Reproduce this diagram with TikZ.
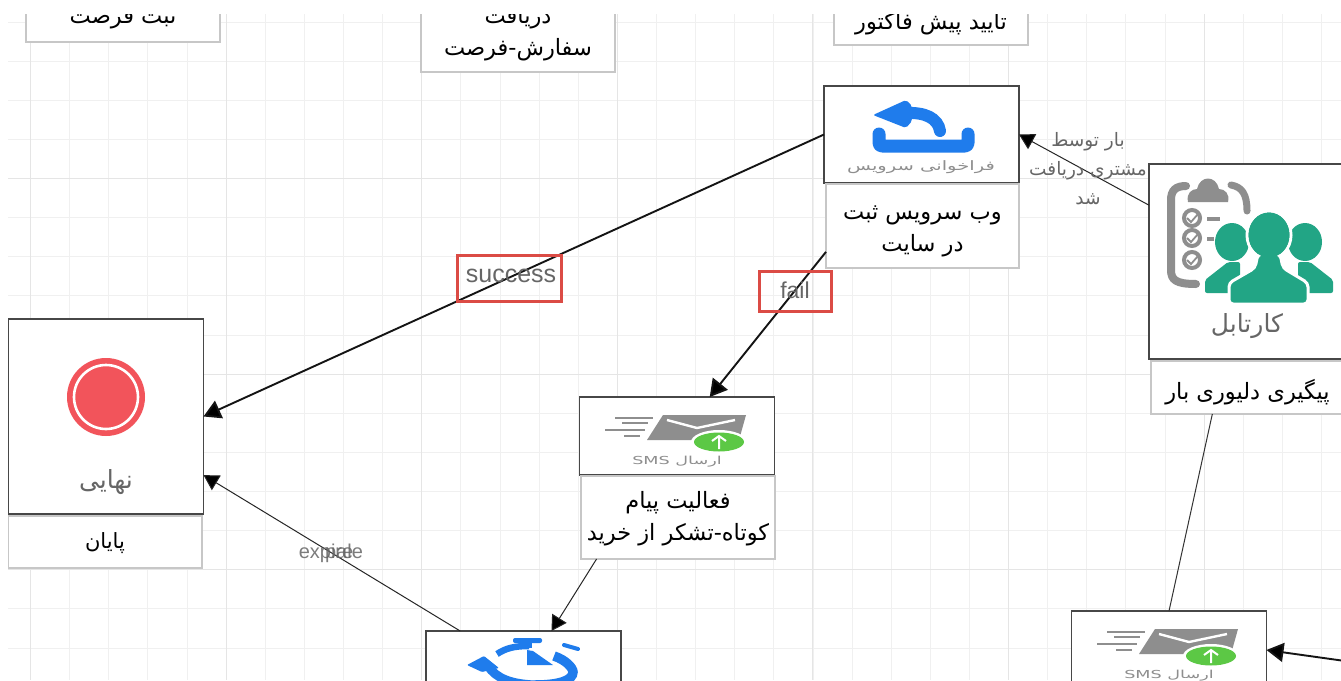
\documentclass[tikz,border=0pt]{standalone}
\usepackage{fontspec}
\usepackage{graphicx}
\usetikzlibrary{arrows.meta}
\setmainfont{Liberation Sans}
\newfontfamily\arabicfont[Script=Arabic]{DejaVu Sans}
\TeXXeTstate=1
\newcommand{\fa}[1]{\arabicfont\beginR #1\endR}
\definecolor{iconblue}{HTML}{1F7CEC}
\definecolor{icongray}{HTML}{8E8E8E}
\definecolor{icongreen}{HTML}{22A585}
\definecolor{smsgreen}{HTML}{5CC845}
\definecolor{stopred}{HTML}{F2545B}
\definecolor{labelgray}{HTML}{666666}
\definecolor{flagred}{HTML}{DB4B45}
\tikzset{
  x=1pt,y=-1pt,
  iconbox/.style={draw=black!72,line width=1.3pt,fill=white,inner sep=0pt,outer sep=0pt,minimum width=195pt},
  capbox/.style={draw=black!22,line width=1.5pt,fill=white,inner sep=0pt,outer sep=0pt,align=center,text=black,font=\fontsize{22.5}{32}\selectfont},
  captext/.style={inner sep=0pt,align=center,text=black,font=\fontsize{22.5}{32}\selectfont},
  heavy/.style={draw=black!92,line width=1.9pt,-{Triangle[length=17pt,width=19pt,fill=black]}},
  light/.style={draw=black!85,line width=1pt,-{Triangle[length=15pt,width=17pt,fill=black]}},
  plainline/.style={draw=black!80,line width=1pt},
  edgetext/.style={text=labelgray,inner sep=0pt},
  flag/.style={draw=flagred,line width=2.8pt,inner sep=0pt},
  smsicon/.pic={
    \fill[icongray] (84,18) -- (167,18) -- (160,43) -- (68,43) -- cycle;
    \draw[white,line width=2.4pt] (88,23) -- (118,31) -- (156,23);
    \draw[icongray,line width=2pt] (36,21) -- (74,21) (43,26) -- (69,26) (26,33) -- (66,33) (45,39) -- (61,39);
    \fill[white] (140,45) ellipse [x radius=28,y radius=12];
    \fill[smsgreen] (140,45) ellipse [x radius=25,y radius=9.5];
    \draw[white,line width=2pt] (140,52) -- (140,40) (133,44) -- (140,39) -- (147,44);
    \node (-cap) [text=icongray,font=\fontsize{11}{11}\selectfont] at (98,65) {\scalebox{1.6}[1]{\fa{ارسال \beginL SMS\endL}}};
  }
}
\begin{document}
\begin{tikzpicture}
\useasboundingbox (0,0) rectangle (1341,680);
\fill[white] (0,0) rectangle (1341,680);
\begin{scope}
\clip (8,14) rectangle (1341,680);
% grid
\foreach \i in {-1,...,34} {
  \draw[black!6,line width=.8pt] ({30.5+39.12*\i},14) -- ({30.5+39.12*\i},680);
}
\foreach \i in {0,...,17} {
  \draw[black!6,line width=.8pt] (8,{22+39.12*\i}) -- (1341,{22+39.12*\i});
}
\foreach \i in {0,...,6} {
  \draw[black!10,line width=1pt] ({30.5+195.6*\i},14) -- ({30.5+195.6*\i},680);
}
\foreach \i in {0,...,3} {
  \draw[black!10,line width=1pt] (8,{-17+195.6*\i}) -- (1341,{-17+195.6*\i});
}
% nodes: caption boxes cut by the top edge
\node (regcap) [capbox,minimum width=194pt,minimum height=60pt] at (123,12) {};
\node (regtext) [captext] at (123,19) {\fa{ثبت فرصت}};
\node (ordcap) [capbox,minimum width=194pt,minimum height=84pt] at (518,30) {};
\node (ordtext) [captext] at (518,34) {\fa{دریافت}\\\fa{سفارش-فرصت}};
\node (invcap) [capbox,minimum width=194pt,minimum height=60pt] at (931,15) {};
\node (invtext) [captext] at (931,24) {\fa{تایید پیش فاکتور}};
% web service
\node (callbox) [iconbox,minimum height=97pt] at (921.5,134.5) {};
\node (callcap) [capbox,minimum width=193pt,minimum height=84pt] at (922.5,226) {};
\node (calltxt) [captext] at (922.5,231) {\fa{وب سرویس ثبت}\\\fa{در سایت}};
% cartable
\node (cartbox) [iconbox,minimum height=195pt] at (1246.5,261.5) {};
\node (cartcap) [capbox,minimum width=193pt,minimum height=53pt] at (1247.5,387.5) {};
\node (carttxt) [captext] at (1247.5,392) {\fa{پیگیری دلیوری بار}};
% end
\node (endbox) [iconbox,minimum height=195pt] at (106,416.5) {};
\node (endcap) [capbox,minimum width=194pt,minimum height=52pt] at (105,542) {};
\node (endtxt) [captext,font=\fontsize{21}{24}\selectfont] at (105,543) {\fa{پایان}};
% sms 1
\node (smsbox) [iconbox,minimum height=78pt] at (677,436) {};
\node (smscap) [capbox,minimum width=194pt,minimum height=83pt] at (678,517.5) {};
\node (smstxt) [captext] at (678,519) {\fa{فعالیت پیام}\\\fa{کوتاه-تشکر از خرید}};
% timer
\node (timerbox) [iconbox,minimum height=195pt] at (523.5,728.5) {};
% sms 2
\node (smsboxb) [iconbox,minimum height=78pt] at (1169,650) {};
\coordinate (offright) at (1345,661);
% connectors
\draw[heavy] (callbox.west) -- (endbox.east);
\draw[heavy] (callcap.195.5) -- (smsbox.50.6);
\draw[light] (cartbox.150.8) -- (callbox.east);
\draw[light] (timerbox.123.5) -- (endbox.-31.7);
\draw[light] (smscap.207) -- (timerbox.74.2);
\draw[plainline] (cartcap.217.5) -- (smsboxb.north);
\draw[heavy] (offright) -- (smsboxb.east);
% call icon
\draw[iconblue,line width=13pt,line cap=round,line join=round,rounded corners=3pt] (879,134) -- (879,146) -- (968,146) -- (968,134);
\draw[iconblue,line width=12pt,line cap=round] (905,113) .. controls (925,112) and (938,118) .. (940,131);
\fill[iconblue,rounded corners=2pt] (873,115) -- (906,100) -- (912,106) -- (912,121) -- (906,128) -- cycle;
\node (calltext) [text=icongray,font=\fontsize{13}{13}\selectfont] at (921,167) {\scalebox{1.5}[1]{\fa{فراخوانی سرویس}}};
% cartable icon
\draw[icongray,line width=8pt,line cap=round] (1186,186) .. controls (1176,186) and (1171,190) .. (1171,200) -- (1171,270) .. controls (1171,280) and (1176,284) .. (1196,284);
\draw[icongray,line width=7pt,line cap=round] (1231,185) .. controls (1242,187) and (1247,194) .. (1247,211);
\fill[icongray] (1188,202) .. controls (1186,193) and (1192,189) .. (1197,189) .. controls (1200,175) and (1216,175) .. (1219,189) .. controls (1225,189) and (1230,194) .. (1228,202) -- cycle;
\foreach \yy in {218,238,260} {
  \draw[icongray,line width=4pt] (1192,\yy) circle [radius=8];
  \draw[icongray,line width=1.8pt] (1187,\yy) -- (1191,{\yy+4}) -- (1198,{\yy-4});
}
\fill[icongray] (1207,217) rectangle (1220,221);
\fill[icongray] (1207,237) rectangle (1214,241);
\fill[icongreen] (1232,242) ellipse [x radius=17,y radius=19];
\fill[icongreen] (1305,242) ellipse [x radius=17,y radius=19];
\fill[icongreen,rounded corners=2pt] (1205,293) -- (1205,280) -- (1228,262) -- (1240,262) -- (1240,293) -- cycle;
\fill[icongreen,rounded corners=2pt] (1333,293) -- (1333,280) -- (1310,262) -- (1298,262) -- (1298,293) -- cycle;
\draw[white,line width=3pt,fill=icongreen] (1269,235) ellipse [x radius=22,y radius=24];
\draw[white,line width=3pt,fill=icongreen,rounded corners=4pt] (1229,304) -- (1229,283) -- (1255,268) -- (1258,254) -- (1280,254) -- (1283,268) -- (1308,283) -- (1308,304) -- cycle;
\fill[icongreen] (1269,235) ellipse [x radius=20.5,y radius=22.5];
\node (carttext) [text=labelgray,font=\fontsize{25}{28}\selectfont] at (1247,326) {\fa{کارتابل}};
% stop icon
\fill[stopred] (106,397) circle [radius=39];
\draw[white,line width=2.6pt] (106,397) circle [radius=32];
\node (endtext) [text=labelgray,font=\fontsize{25}{28}\selectfont] at (106,482) {\fa{نهایی}};
% sms icons
\path (579,397) pic (smsa) {smsicon};
\path (1071,611) pic (smsb) {smsicon};
% timer icon
\fill[iconblue,rounded corners=2pt] (513,638) rectangle (542,643);
\fill[iconblue] (525,643) rectangle (532,648);
\draw[iconblue,line width=6.5pt] (497,654) .. controls (506,648) and (515,646) .. (529,646);
\draw[iconblue,line width=9.5pt] (554,656) .. controls (566,660) and (573,668) .. (573,672) .. controls (573,680) and (560,685) .. (535,685);
\draw[iconblue,line width=9pt] (488,666) .. controls (496,678) and (510,684) .. (535,685);
\fill[iconblue] (527,650) -- (533,651) -- (553,665) -- (527,665) -- cycle;
\fill[iconblue,rounded corners=1pt] (467,665) -- (484,656) -- (499,668) -- (482,672) -- cycle;
\draw[iconblue,line width=4pt,line cap=round] (564,645) -- (578,649);
% labels
\node (flagsuccess) [flag,minimum width=104pt,minimum height=46pt] at (509.5,278.5) {};
\node (flagfail) [flag,minimum width=72pt,minimum height=40pt] at (795.5,291.5) {};
\node (lblsuccess) [edgetext,font=\fontsize{25}{26}\selectfont] at (511,276) {success};
\node (lblfail) [edgetext,font=\fontsize{23}{26}\selectfont] at (795,290) {fail};
\node (lblexpire) [edgetext,opacity=.85,font=\fontsize{20}{22}\selectfont] at (326,553) {expire};
\node (lblother) [edgetext,opacity=.85,font=\fontsize{20}{22}\selectfont] at (344,553) {pale};
\node (lblrecv) [text=labelgray,font=\fontsize{18.5}{29}\selectfont,align=center,inner sep=0pt] at (1088,169) {\fa{بار توسط}\\\fa{مشتری دریافت}\\\fa{شد}};
\end{scope}
\end{tikzpicture}
\end{document}
